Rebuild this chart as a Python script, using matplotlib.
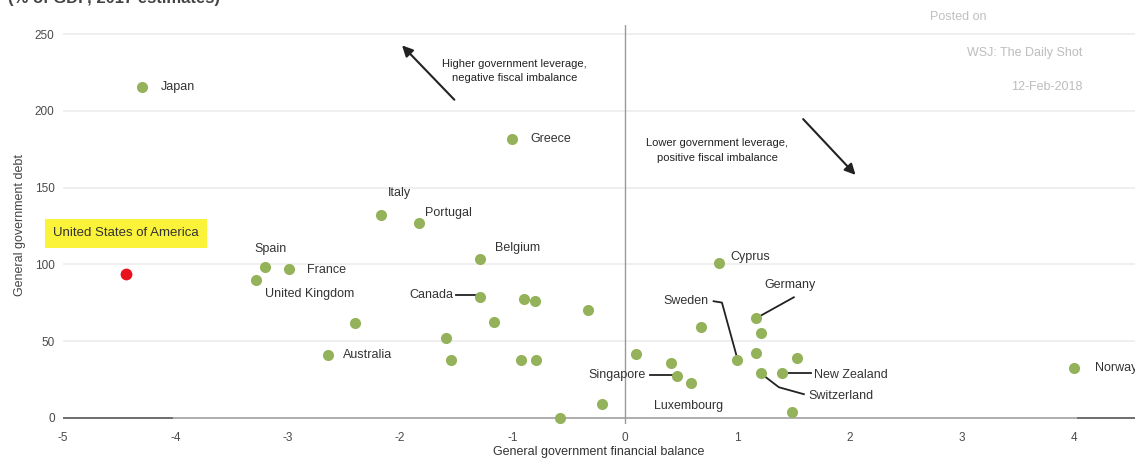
import matplotlib.pyplot as plt
import numpy as np

# fiscal balance (% of GDP) vs general government debt (% of GDP)
countries = ["Japan", "Greece", "Italy", "Portugal", "Belgium", "Spain", "France",
             "United Kingdom", "Australia", "Canada", "Cyprus", "Germany", "Sweden",
             "Singapore", "Luxembourg", "New Zealand", "Switzerland", "Norway"]
balance = [-4.30, -1.00, -2.17, -1.83, -1.29, -3.20, -2.99, -3.28, -2.64, -1.29,
           0.84, 1.17, 1.00, 0.46, 0.59, 1.40, 1.21, 4.00]
debt = [215.5, 181.5, 132, 127, 103.5, 98, 97, 90, 41, 79, 101, 65, 38, 27, 23, 29, 29, 32.5]

# the unlabelled ones
other_balance = [-2.40, -0.90, -0.80, -0.33, -1.16, -1.59, -1.55, -0.92, -0.79,
                 -0.58, -0.20, 0.10, 0.41, 0.68, 1.21, 1.17, 1.53, 1.49]
other_debt = [62, 77.5, 76, 70, 62.5, 52, 38, 38, 38, 0, 9, 41.5, 36, 59, 55, 42, 39, 4]

usa_balance = -4.44
usa_debt = 94

y_ticks = [0, 50, 100, 150, 200, 250]
x_ticks = [-5, -4, -3, -2, -1, 0, 1, 2, 3, 4]

GREEN = "#93b25a"
RED = "#e8121c"
TXT = "#333333"
LBL_FONT = ['Liberation Sans Narrow', 'Liberation Sans']

plt.rcParams['font.family'] = ['Liberation Sans', 'DejaVu Sans']
plt.rcParams['axes.unicode_minus'] = False

fig = plt.figure(figsize=(11.35, 4.67), dpi=100)
W, H = 1135, 467
ax = fig.add_axes([63 / W, (H - 424) / H, (W - 63) / W, (424 - 25) / H])
ax.set_xlim(-5, 4.54)
ax.set_ylim(-4, 256)
for s in ax.spines.values():
    s.set_visible(False)

# grid + zero lines
for yv in y_ticks[1:]:
    ax.axhline(yv, color="#ececec", lw=1.2, zorder=0)
ax.axhline(0, color="#a0a0a0", lw=1.2, zorder=0)
ax.plot([-5, -4.03], [0, 0], color="#707070", lw=1.4, zorder=0)
ax.plot([4.03, 4.54], [0, 0], color="#707070", lw=1.4, zorder=0)
ax.axvline(0, color="#9a9a9a", lw=1.0, zorder=0)

ax.scatter(balance, debt, s=64, color=GREEN, zorder=3, linewidths=0)
ax.scatter(other_balance, other_debt, s=64, color=GREEN, zorder=3, linewidths=0)
ax.scatter([usa_balance], [usa_debt], s=72, color=RED, zorder=3, linewidths=0)

ax.set_xticks(x_ticks)
ax.set_yticks(y_ticks)
ax.tick_params(length=0, labelsize=8.5, colors="#4a4a4a", pad=6)
ax.set_xlabel("General government financial balance", fontsize=9, color=TXT,
              family=LBL_FONT, labelpad=1)
ax.set_ylabel("General government debt", fontsize=9, color="#444444", labelpad=6)

# plain labels: offset in points
lab = {
    "Japan": (14, 0), "Greece": (13, 0), "Italy": (5, 16),
    "Portugal": (4, 7), "Belgium": (11, 8), "Spain": (-8, 13),
    "France": (13, -1), "United Kingdom": (6, -10),
    "Australia": (11, 0), "Cyprus": (8, 4), "Luxembourg": (-27, -17),
    "Norway": (15, 0),
}
for name, x, y in zip(countries, balance, debt):
    if name in lab:
        dx, dy = lab[name]
        ax.annotate(name, (x, y), xytext=(dx, dy), textcoords="offset points",
                    ha="left", va="center", fontsize=9, color=TXT, family=LBL_FONT)

# labels with leader lines (leader vertices in points from the dot)
leaders = {
    "Canada": [(-2, 1), (-17, 1)],
    "Singapore": [(-1, 1), (-19, 1)],
    "New Zealand": [(-1, 0), (21, 0)],
    "Germany": [(0, 0), (27, 15)],
    "Switzerland": [(0, 0), (13, -10), (31, -15)],
    "Sweden": [(0, 1), (-11, 41), (-17, 42)],
}
ltext = {
    "Canada": (-19, 1, "right"), "Singapore": (-22, 1, "right"),
    "New Zealand": (23, -1, "left"), "Germany": (6, 24, "left"),
    "Switzerland": (34, -16, "left"), "Sweden": (-21, 42, "right"),
}
inv = ax.transData.inverted()
for name, x, y in zip(countries, balance, debt):
    if name in leaders:
        off = np.array(leaders[name]) / 72 * fig.dpi
        base = ax.transData.transform((x, y))
        pts = inv.transform(base + off)
        ax.plot(pts[:, 0], pts[:, 1], color="#222222", lw=1.3, zorder=2)
        dx, dy, ha = ltext[name]
        ax.annotate(name, (x, y), xytext=(dx, dy), textcoords="offset points",
                    ha=ha, va="center", fontsize=9, color=TXT, family=LBL_FONT)

# highlighted US label
ax.annotate("United States of America", (usa_balance, usa_debt), xytext=(0, 29),
            textcoords="offset points", ha="center", va="center", fontsize=9.5,
            color=TXT, family=LBL_FONT,
            bbox=dict(boxstyle="square,pad=0.62", fc="#fbf33a", ec="none"))

# quadrant notes
ax.text(-0.98, 226, "Higher government leverage,\nnegative fiscal imbalance", ha="center",
        va="center", fontsize=8, color="#222222", linespacing=1.6, family=LBL_FONT)
ax.text(0.82, 174, "Lower government leverage,\npositive fiscal imbalance", ha="center",
        va="center", fontsize=8, color="#222222", linespacing=1.6, family=LBL_FONT)
ax.annotate("", xy=(-2.00, 244), xytext=(-1.50, 206),
            arrowprops=dict(arrowstyle="-|>", color="#222222", lw=1.5, mutation_scale=16))
ax.annotate("", xy=(2.07, 157), xytext=(1.57, 196),
            arrowprops=dict(arrowstyle="-|>", color="#222222", lw=1.5, mutation_scale=16))

# source stamp
fig.text(958 / W, 1 - 17 / H, "Posted on", ha="center", va="center", fontsize=9, color="#c0c0c0")
fig.text(1082 / W, 1 - 53 / H, "WSJ: The Daily Shot", ha="right", va="center", fontsize=9, color="#bdbdbd")
fig.text(1082 / W, 1 - 87 / H, "12-Feb-2018", ha="right", va="center", fontsize=9, color="#bdbdbd")

# title, clipped by the top edge
fig.text(8 / W, 1 + 2 / H, "(% of GDP, 2017 estimates)", ha="left", va="center",
         fontsize=12, fontweight="bold", color="#444444")

fig.savefig("out.png", dpi=100, facecolor="white")
